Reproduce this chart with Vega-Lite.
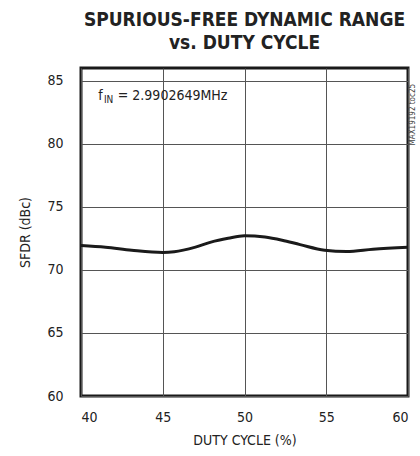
{
  "$schema": "https://vega.github.io/schema/vega-lite/v6.json",
  "width": 327,
  "height": 328,
  "autosize": "none",
  "padding": {"left": 81, "top": 68, "right": 12, "bottom": 60},
  "background": "white",
  "config": {
    "font": "DejaVu Sans Condensed",
    "view": {"stroke": "#1a1a1a", "strokeWidth": 3},
    "axis": {"domain": false, "ticks": false, "grid": true, "gridColor": "#555555", "gridWidth": 1, "labelFont": "DejaVu Sans Condensed", "labelFontSize": 14, "labelColor": "#222222", "titleFont": "DejaVu Sans Condensed", "titleFontSize": 14, "titleFontWeight": "normal", "titleColor": "#222222"}
  },
  "title": {
    "text": ["SPURIOUS-FREE DYNAMIC RANGE", "vs. DUTY CYCLE"],
    "font": "DejaVu Sans Condensed",
    "fontSize": 19,
    "fontWeight": "bold",
    "color": "#222222",
    "anchor": "middle",
    "offset": 15,
    "lineHeight": 23
  },
  "datasets": {
    "sfdr": [
      {"duty": 40, "sfdr": 71.94},
      {"duty": 41.5, "sfdr": 71.8},
      {"duty": 43.1, "sfdr": 71.56},
      {"duty": 45, "sfdr": 71.38},
      {"duty": 45.7, "sfdr": 71.43},
      {"duty": 47, "sfdr": 71.8},
      {"duty": 47.95, "sfdr": 72.2},
      {"duty": 49, "sfdr": 72.5},
      {"duty": 50, "sfdr": 72.7},
      {"duty": 51.25, "sfdr": 72.6},
      {"duty": 52.3, "sfdr": 72.35},
      {"duty": 53.4, "sfdr": 72.0},
      {"duty": 54.9, "sfdr": 71.56},
      {"duty": 56.25, "sfdr": 71.46},
      {"duty": 57.86, "sfdr": 71.64},
      {"duty": 60, "sfdr": 71.8}
    ],
    "notes": [
      {"x": 41.05, "y": 83.45, "label": "f"},
      {"x": 41.4, "y": 83.2, "label": "IN"},
      {"x": 42.25, "y": 83.45, "label": "= 2.9902649MHz"}
    ],
    "side": [
      {"x": 60.32, "y": 82.3, "label": "MAX19192 toc25"}
    ]
  },
  "layer": [
    {
      "data": {"name": "sfdr"},
      "mark": {"type": "line", "color": "#1a1a1a", "strokeWidth": 3, "interpolate": "monotone"},
      "encoding": {
        "x": {"field": "duty", "type": "quantitative", "scale": {"domain": [40, 60]}, "axis": {"values": [40, 45, 50, 55, 60], "title": "DUTY CYCLE (%)", "labelPadding": 14, "titlePadding": 9}},
        "y": {"field": "sfdr", "type": "quantitative", "scale": {"domain": [60, 85]}, "axis": {"values": [60, 65, 70, 75, 80, 85], "title": "SFDR (dBc)", "labelPadding": 18, "titlePadding": 14}}
      }
    },
    {
      "data": {"name": "notes"},
      "transform": [{"filter": "datum.label == 'f'"}],
      "mark": {"type": "text", "fontSize": 14, "color": "#222222", "align": "left", "baseline": "alphabetic"},
      "encoding": {"x": {"field": "x", "type": "quantitative"}, "y": {"field": "y", "type": "quantitative"}, "text": {"field": "label"}}
    },
    {
      "data": {"name": "notes"},
      "transform": [{"filter": "datum.label == 'IN'"}],
      "mark": {"type": "text", "fontSize": 10, "color": "#222222", "align": "left", "baseline": "alphabetic"},
      "encoding": {"x": {"field": "x", "type": "quantitative"}, "y": {"field": "y", "type": "quantitative"}, "text": {"field": "label"}}
    },
    {
      "data": {"name": "notes"},
      "transform": [{"filter": "datum.label != 'f' && datum.label != 'IN'"}],
      "mark": {"type": "text", "fontSize": 14, "color": "#222222", "align": "left", "baseline": "alphabetic"},
      "encoding": {"x": {"field": "x", "type": "quantitative"}, "y": {"field": "y", "type": "quantitative"}, "text": {"field": "label"}}
    },
    {
      "data": {"name": "side"},
      "mark": {"type": "text", "fontSize": 8, "color": "#444444", "angle": 270, "align": "center", "baseline": "middle"},
      "encoding": {"x": {"field": "x", "type": "quantitative"}, "y": {"field": "y", "type": "quantitative"}, "text": {"field": "label"}}
    }
  ]
}
